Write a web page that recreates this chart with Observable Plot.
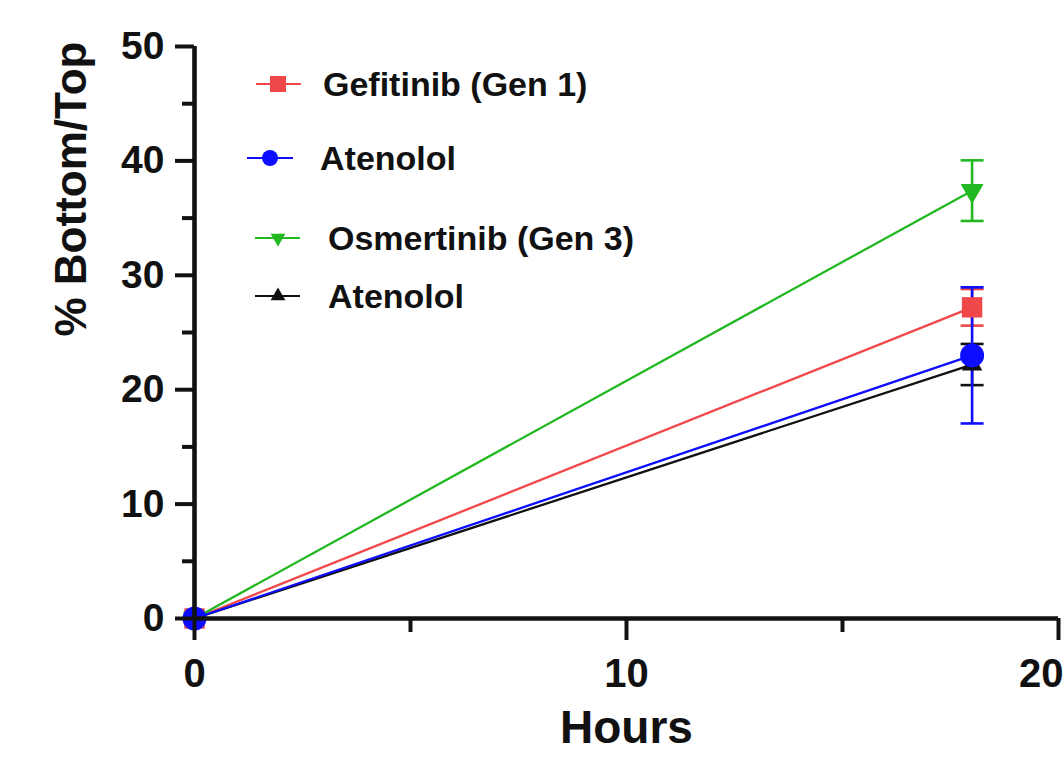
<!DOCTYPE html>
<html><head><meta charset="utf-8">
<script src="https://cdn.jsdelivr.net/npm/d3@7"></script>
<script src="https://cdn.jsdelivr.net/npm/@observablehq/plot@0.6"></script>
<style>
html,body{margin:0;padding:0;background:#fff;}
#wrap{position:relative;width:1064px;height:773px;overflow:hidden;}
#legend{position:absolute;left:0;top:0;}
</style></head><body><div id="wrap"></div>
<script>
// ---- data ----
const hours = [0, 18];
const seriesNames = ["Gefitinib (Gen 1)", "Atenolol", "Osmertinib (Gen 3)", "Atenolol"];
const seriesColors = ["#f04848", "#0d0dff", "#22b822", "#111111"];
const seriesSymbols = ["square", "circle", "triangleDown", "triangle"];
const gefitinibMean = [0, 27.2];
const gefitinibSD = [0, 1.6];
const atenololBlueMean = [0, 23.0];
const atenololBlueSD = [0, 5.95];
const osmertinibMean = [0, 37.4];
const osmertinibSD = [0, 2.65];
const atenololBlackMean = [0, 22.2];
const atenololBlackSD = [0, 1.8];
const yMajorTicks = [0, 10, 20, 30, 40, 50];
const yMinorTicks = [5, 15, 25, 35, 45];
const xMajorTicks = [0, 10, 20];
const xMinorTicks = [5, 15];
const xLabel = "Hours";
const yLabel = "% Bottom/Top";

const means = [gefitinibMean, atenololBlueMean, osmertinibMean, atenololBlackMean];
const sds = [gefitinibSD, atenololBlueSD, osmertinibSD, atenololBlackSD];

const series = seriesNames.map((name, i) => ({
  name, color: seriesColors[i], symbol: seriesSymbols[i],
  rows: hours.map((h, j) => ({hours: h, mean: means[i][j], lo: means[i][j] - sds[i][j], hi: means[i][j] + sds[i][j], sd: sds[i][j]}))
}));

// custom symbols
const capSymbol = {draw(ctx, size) { const r = Math.sqrt(size / Math.PI); ctx.moveTo(-r, 0); ctx.lineTo(r, 0); }};
const triDown = {draw(ctx, size) { const r = Math.sqrt(size / Math.PI); const h = r * Math.sqrt(3); ctx.moveTo(-r, -h / 3); ctx.lineTo(r, -h / 3); ctx.lineTo(0, 2 * h / 3); ctx.closePath(); }};

const symbolSpec = {
  square: {symbol: "square", r: 11.5},
  circle: {symbol: "circle", r: 12},
  triangleDown: {symbol: triDown, r: 11.5},
  triangle: {symbol: "triangle", r: 7.6}
};

const drawOrder = [0, 2, 3, 1];
const marks = [];
// lines
for (const i of drawOrder) {
  const s = series[i];
  marks.push(Plot.line(s.rows, {x: "hours", y: "mean", stroke: s.color, strokeWidth: 2.3}));
}
// error bars
for (const i of drawOrder) {
  const s = series[i];
  const eb = s.rows.filter(d => d.sd > 0);
  marks.push(Plot.ruleX(eb, {x: "hours", y1: "lo", y2: "hi", stroke: s.color, strokeWidth: 2.6}));
  marks.push(Plot.dot(eb, {x: "hours", y: "lo", symbol: capSymbol, r: 11.5, stroke: s.color, fill: "none", strokeWidth: 2.6}));
  marks.push(Plot.dot(eb, {x: "hours", y: "hi", symbol: capSymbol, r: 11.5, stroke: s.color, fill: "none", strokeWidth: 2.6}));
}
// markers
for (const i of drawOrder) {
  const s = series[i];
  const sp = symbolSpec[s.symbol];
  marks.push(Plot.dot(s.rows, {x: "hours", y: "mean", symbol: sp.symbol, r: sp.r, fill: s.color, stroke: "none"}));
}
// axes
const lastX = xMajorTicks[xMajorTicks.length - 1];
marks.push(
  Plot.axisY({ticks: yMajorTicks, tickSize: 19, tickPadding: 11, strokeWidth: 4, fontSize: 39, fontWeight: "bold", label: null, tickFormat: d3.format("d")}),
  Plot.axisY({ticks: yMinorTicks, tickSize: 12, strokeWidth: 4, text: null, label: null}),
  Plot.axisX({ticks: xMajorTicks, tickSize: 22, strokeWidth: 4, text: null, label: null}),
  Plot.axisX({ticks: xMajorTicks.filter(t => t !== lastX), tickSize: 22, tickPadding: 18, strokeWidth: 0, fontSize: 40, fontWeight: "bold", label: null, tickFormat: d3.format("d")}),
  Plot.axisX({ticks: [lastX], tickSize: 22, tickPadding: 18, strokeWidth: 0, fontSize: 40, fontWeight: "bold", label: null, tickFormat: d3.format("d"), textAnchor: "end", dx: 5}),
  Plot.axisX({ticks: xMinorTicks, tickSize: 14, strokeWidth: 4, text: null, label: null}),
  Plot.ruleX([0], {strokeWidth: 4.6, stroke: "#111"}),
  Plot.ruleY([0], {strokeWidth: 4.6, stroke: "#111"}),
  Plot.text([yLabel], {frameAnchor: "left", dx: -123, dy: 4, rotate: -90, fontSize: 44, fontWeight: "bold", fill: "#111"}),
  Plot.text([xLabel], {frameAnchor: "bottom", dy: 124, fontSize: 46, fontWeight: "bold", fill: "#111"})
);

const chart = Plot.plot({
  width: 1064,
  height: 773,
  marginTop: 46,
  marginBottom: 155,
  marginLeft: 194,
  marginRight: 6,
  x: {domain: [0, 20]},
  y: {domain: [0, 50]},
  style: {fontFamily: "'Liberation Sans', Arial, sans-serif", fontWeight: "bold", color: "#111", background: "white", overflow: "visible"},
  marks
});
document.getElementById("wrap").appendChild(chart);

// ---- legend (overlay) ----
const legendRows = [
  {lineX1: 256, lineX2: 301, symX: 278, y: 84, textX: 323},
  {lineX1: 247, lineX2: 293, symX: 270, y: 158, textX: 320},
  {lineX1: 255, lineX2: 300, symX: 278, y: 238, textX: 328},
  {lineX1: 255, lineX2: 300, symX: 278, y: 296, textX: 328}
];
const legendSym = {
  square: d3.symbol(d3.symbolSquare, 16 * 16),
  circle: d3.symbol(d3.symbolCircle, Math.PI * 8 * 8),
  triangle: d3.symbol(d3.symbolTriangle, 95),
  triangleDown: d3.symbol(d3.symbolTriangle, 95)
};
const lg = d3.select("#wrap").append("svg").attr("id", "legend").attr("width", 1064).attr("height", 773)
  .style("font-family", "'Liberation Sans', Arial, sans-serif").style("font-weight", "bold");
series.forEach((s, i) => {
  const p = legendRows[i];
  const g = lg.append("g");
  g.append("line").attr("x1", p.lineX1).attr("x2", p.lineX2).attr("y1", p.y).attr("y2", p.y).attr("stroke", s.color).attr("stroke-width", 2);
  g.append("path").attr("d", legendSym[s.symbol]()).attr("fill", s.color)
    .attr("transform", `translate(${p.symX},${p.y}) ${s.symbol === "triangleDown" ? "rotate(180)" : ""}`);
  g.append("text").attr("x", p.textX).attr("y", p.y + 12).attr("font-size", 34).attr("fill", "#111").text(s.name);
});
</script></body></html>
